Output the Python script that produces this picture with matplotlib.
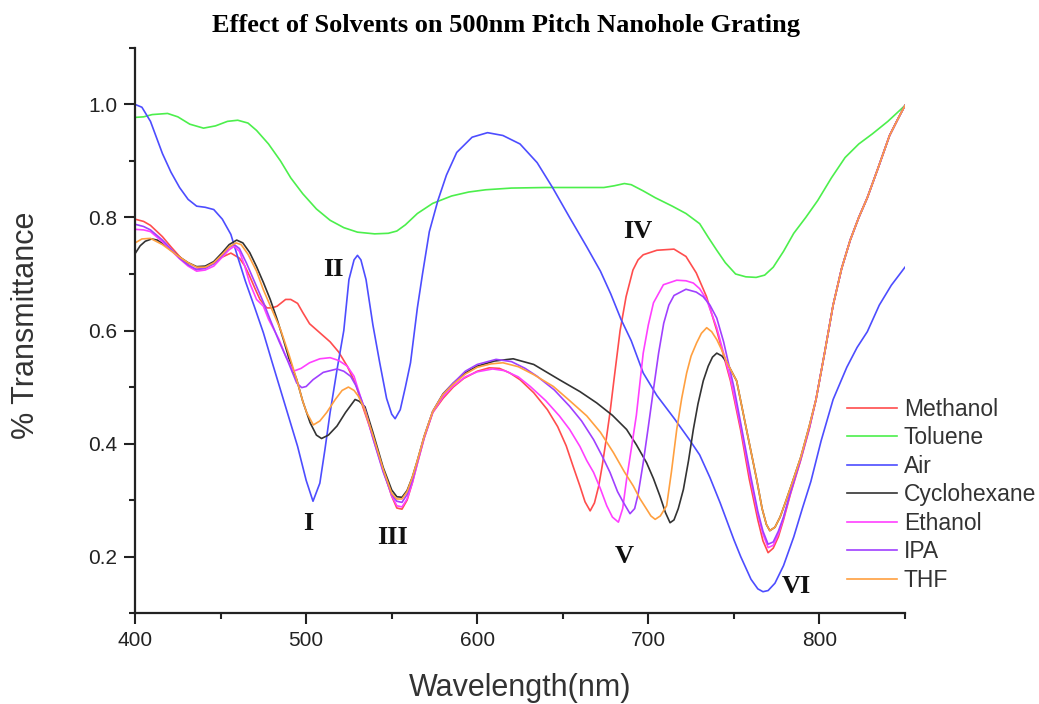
import matplotlib
matplotlib.use('Agg')
import matplotlib.pyplot as plt
from matplotlib.ticker import MultipleLocator

# 数据
air_nm = [400, 404, 409, 416, 421, 426, 431, 436, 441, 446, 451, 456, 460, 464.5, 470, 475, 480, 485, 490, 495, 500, 504, 508, 511, 514, 518, 522, 525, 528, 530, 532, 535, 539, 543, 547, 550, 552, 555, 558, 561, 565, 568, 572, 577, 582, 588, 597, 606, 615, 625, 635, 644, 654, 664, 672, 678, 684, 690, 697, 705, 715, 724, 730, 736, 742, 750, 754, 760, 764, 767, 770, 774, 779, 785, 790, 795, 801, 808, 816, 822, 828, 835, 842, 850]
air_val = [1.0, 0.995, 0.97, 0.913, 0.88, 0.853, 0.832, 0.82, 0.818, 0.814, 0.797, 0.77, 0.73, 0.687, 0.64, 0.596, 0.545, 0.495, 0.445, 0.395, 0.335, 0.298, 0.33, 0.39, 0.455, 0.53, 0.60, 0.69, 0.725, 0.733, 0.725, 0.69, 0.61, 0.543, 0.48, 0.452, 0.444, 0.46, 0.50, 0.543, 0.64, 0.70, 0.775, 0.83, 0.875, 0.915, 0.942, 0.95, 0.945, 0.93, 0.897, 0.853, 0.80, 0.748, 0.705, 0.665, 0.62, 0.582, 0.525, 0.485, 0.445, 0.407, 0.38, 0.34, 0.295, 0.23, 0.2, 0.16, 0.143, 0.138, 0.14, 0.153, 0.184, 0.235, 0.285, 0.333, 0.405, 0.478, 0.535, 0.57, 0.598, 0.645, 0.68, 0.712]

toluene_nm = [400, 405, 410, 419, 425, 432, 440, 447, 454, 460, 466, 471, 478, 485, 491, 498, 506, 514, 522, 530, 540, 548, 553, 558, 565, 574, 585, 595, 605, 620, 640, 660, 674, 680, 686, 690, 697, 704, 714, 722, 730, 735, 740, 745, 751, 757, 763, 768, 773, 779, 785, 792, 799, 807, 815, 823, 831, 840, 850]
toluene_val = [0.977, 0.978, 0.982, 0.984, 0.978, 0.965, 0.958, 0.962, 0.97, 0.972, 0.967, 0.954, 0.93, 0.90, 0.87, 0.842, 0.815, 0.795, 0.782, 0.774, 0.771, 0.772, 0.776, 0.787, 0.807, 0.825, 0.838, 0.845, 0.849, 0.852, 0.853, 0.853, 0.853, 0.856, 0.86, 0.858, 0.847, 0.835, 0.82, 0.807, 0.789, 0.765, 0.742, 0.72, 0.70, 0.695, 0.694, 0.698, 0.712, 0.74, 0.772, 0.80, 0.83, 0.87, 0.906, 0.93, 0.948, 0.97, 0.998]

methanol_nm = [400, 405, 409, 416, 421, 426, 431, 435, 440, 446, 451, 456, 461, 464, 467, 470, 473, 477, 480, 483, 488, 491, 495, 498, 502, 508, 514, 519, 524, 529, 533, 539, 545, 550, 553, 556, 559, 562, 565, 569, 574, 580, 586, 592, 600, 607, 613, 619, 625, 633, 641, 647, 652, 656, 660, 663, 666, 668.5, 671, 673, 675.5, 677.6, 680, 683.5, 687, 691, 694, 697, 705, 715, 722, 728, 734, 740, 748, 754, 759, 764, 767, 770, 773, 776, 779, 783, 789, 794, 798, 803, 808, 813, 818, 823, 828, 834, 841, 846, 850]
methanol_val = [0.797, 0.793, 0.786, 0.766, 0.748, 0.731, 0.716, 0.708, 0.71, 0.72, 0.73, 0.737, 0.728, 0.715, 0.696, 0.675, 0.655, 0.64, 0.64, 0.643, 0.655, 0.655, 0.648, 0.632, 0.612, 0.596, 0.58, 0.562, 0.537, 0.505, 0.466, 0.413, 0.354, 0.307, 0.286, 0.284, 0.30, 0.33, 0.365, 0.41, 0.455, 0.48, 0.50, 0.515, 0.528, 0.534, 0.533, 0.525, 0.513, 0.49, 0.46, 0.43, 0.396, 0.36, 0.325, 0.297, 0.281, 0.295, 0.325, 0.36, 0.41, 0.455, 0.515, 0.60, 0.66, 0.707, 0.725, 0.734, 0.742, 0.744, 0.731, 0.702, 0.66, 0.60, 0.511, 0.423, 0.337, 0.265, 0.228, 0.207, 0.215, 0.235, 0.265, 0.31, 0.37, 0.425, 0.478, 0.56, 0.645, 0.71, 0.76, 0.80, 0.835, 0.885, 0.945, 0.975, 0.998]

cyclohexane_nm = [400, 403, 406, 409.7, 413, 417, 421, 426, 431, 436, 441, 446, 451, 455, 459.4, 463, 467, 471, 475, 479, 483, 486.7, 490, 494.5, 498, 502.3, 506, 509, 513, 518, 523, 528.6, 531, 534.4, 539, 545, 550, 553, 556, 559, 562, 565, 569, 574, 580, 586, 593, 600, 610, 621, 633, 648, 660, 669.8, 679, 687.3, 693, 699, 703, 706.8, 710, 712.7, 715, 717.5, 720.5, 723.5, 726.3, 729, 732.1, 735, 737.5, 740, 743, 746, 751.6, 757.5, 763.3, 766.5, 769, 771, 774, 777, 780, 784, 789, 794, 798, 803, 808, 813, 818, 823, 828, 834, 841, 846, 850]
cyclohexane_val = [0.736, 0.75, 0.758, 0.762, 0.76, 0.752, 0.742, 0.73, 0.72, 0.713, 0.714, 0.722, 0.738, 0.752, 0.76, 0.755, 0.738, 0.713, 0.685, 0.655, 0.62, 0.584, 0.55, 0.513, 0.475, 0.437, 0.415, 0.409, 0.415, 0.431, 0.455, 0.478, 0.475, 0.465, 0.42, 0.358, 0.318, 0.306, 0.305, 0.317, 0.34, 0.37, 0.413, 0.457, 0.488, 0.507, 0.525, 0.537, 0.546, 0.55, 0.54, 0.513, 0.492, 0.472, 0.45, 0.425, 0.398, 0.366, 0.338, 0.307, 0.278, 0.26, 0.265, 0.285, 0.319, 0.37, 0.425, 0.47, 0.511, 0.537, 0.553, 0.56, 0.555, 0.543, 0.511, 0.423, 0.337, 0.285, 0.257, 0.246, 0.252, 0.27, 0.295, 0.33, 0.375, 0.43, 0.478, 0.56, 0.645, 0.71, 0.76, 0.80, 0.835, 0.885, 0.945, 0.975, 0.998]

ethanol_nm = [400, 405, 409, 416, 421, 426, 431, 436, 441, 446, 451, 455, 458, 461, 464, 467, 471, 475, 478, 484, 488, 492.5, 497, 502, 508, 514, 519, 524, 528, 531, 534, 539, 545, 550, 553, 556, 559, 562, 565, 569, 574, 580, 586, 593, 600, 609, 616, 624, 631, 640, 648, 654, 660, 664, 668, 672, 675.7, 679, 682.5, 685, 687.3, 690, 693, 697, 700, 703, 708.8, 716.6, 722, 726.3, 730, 734, 740, 748, 754, 759, 764, 767, 770, 773, 776, 779, 783, 789, 794, 798, 803, 808, 813, 818, 823, 828, 834, 841, 846, 850]
ethanol_val = [0.779, 0.778, 0.775, 0.757, 0.742, 0.727, 0.714, 0.705, 0.707, 0.714, 0.73, 0.743, 0.749, 0.74, 0.715, 0.684, 0.655, 0.643, 0.62, 0.585, 0.555, 0.528, 0.533, 0.543, 0.55, 0.552, 0.547, 0.537, 0.519, 0.49, 0.462, 0.41, 0.352, 0.308, 0.29, 0.288, 0.302, 0.33, 0.365, 0.41, 0.455, 0.483, 0.502, 0.518, 0.527, 0.532, 0.529, 0.518, 0.501, 0.476, 0.449, 0.425, 0.395, 0.37, 0.349, 0.32, 0.29, 0.27, 0.261, 0.285, 0.337, 0.39, 0.45, 0.56, 0.61, 0.649, 0.681, 0.689, 0.688, 0.684, 0.674, 0.655, 0.605, 0.515, 0.43, 0.348, 0.275, 0.24, 0.216, 0.22, 0.24, 0.268, 0.312, 0.372, 0.427, 0.478, 0.56, 0.645, 0.71, 0.76, 0.80, 0.835, 0.885, 0.945, 0.975, 0.998]

ipa_nm = [400, 405, 409, 416, 421, 426, 431, 436, 441, 446, 451, 455, 458, 461, 465, 470, 475, 479, 484, 489, 494.5, 497.4, 500, 504, 510, 518, 522, 526, 529, 532, 535, 539, 545, 550, 553, 556, 559, 562, 565, 569, 574, 580, 586, 593, 600, 611, 620, 628, 635, 645, 654, 661, 668, 673, 677.6, 682, 685.4, 689.3, 692, 694, 697, 700, 703, 706, 709, 712, 715, 722, 728, 732, 736, 740, 744, 750, 755, 760, 764, 767, 770, 773, 776, 779, 783, 789, 794, 798, 803, 808, 813, 818, 823, 828, 834, 841, 846, 850]
ipa_val = [0.788, 0.784, 0.778, 0.76, 0.744, 0.728, 0.716, 0.708, 0.71, 0.718, 0.733, 0.747, 0.752, 0.745, 0.72, 0.685, 0.65, 0.619, 0.582, 0.548, 0.507, 0.499, 0.501, 0.513, 0.526, 0.532, 0.528, 0.519, 0.503, 0.48, 0.455, 0.41, 0.35, 0.31, 0.298, 0.296, 0.31, 0.335, 0.368, 0.412, 0.457, 0.487, 0.507, 0.528, 0.54, 0.549, 0.545, 0.533, 0.519, 0.495, 0.466, 0.44, 0.407, 0.378, 0.349, 0.315, 0.296, 0.276, 0.285, 0.31, 0.366, 0.43, 0.496, 0.56, 0.613, 0.645, 0.662, 0.673, 0.668, 0.66, 0.645, 0.622, 0.58, 0.50, 0.42, 0.34, 0.28, 0.245, 0.222, 0.226, 0.245, 0.27, 0.313, 0.372, 0.427, 0.478, 0.56, 0.645, 0.71, 0.76, 0.80, 0.835, 0.885, 0.945, 0.975, 0.998]

thf_nm = [400, 404, 409, 416, 421, 426, 431, 436, 441, 446, 451, 455, 459, 462, 466, 471, 475, 480, 485, 490, 494.5, 498, 500.3, 504.2, 508, 512, 517, 521, 524.7, 528, 530.5, 534, 539, 545, 550, 553, 556, 559, 562, 565, 569, 574, 580, 586, 593, 600, 608, 615, 624, 633, 644.5, 654, 664, 672, 679.6, 686, 691.2, 695, 699, 701.5, 704, 707, 710.7, 713.5, 716.6, 719.5, 722.4, 725, 728.2, 731, 734.1, 737, 740, 743, 746, 751.6, 757.5, 763.3, 766.5, 769, 771, 774, 777, 780, 784, 789, 794, 798, 803, 808, 813, 818, 823, 828, 834, 841, 846, 850]
thf_val = [0.755, 0.762, 0.763, 0.752, 0.741, 0.73, 0.72, 0.712, 0.712, 0.72, 0.735, 0.748, 0.755, 0.752, 0.735, 0.705, 0.672, 0.637, 0.602, 0.557, 0.513, 0.475, 0.455, 0.433, 0.44, 0.455, 0.478, 0.494, 0.50, 0.494, 0.484, 0.462, 0.415, 0.355, 0.312, 0.302, 0.302, 0.315, 0.34, 0.37, 0.413, 0.457, 0.487, 0.505, 0.523, 0.535, 0.541, 0.543, 0.536, 0.522, 0.501, 0.476, 0.449, 0.42, 0.384, 0.35, 0.325, 0.303, 0.284, 0.272, 0.266, 0.272, 0.29, 0.35, 0.425, 0.48, 0.525, 0.555, 0.578, 0.595, 0.605, 0.598, 0.584, 0.565, 0.543, 0.511, 0.423, 0.337, 0.285, 0.257, 0.246, 0.252, 0.27, 0.295, 0.33, 0.375, 0.43, 0.478, 0.56, 0.645, 0.71, 0.76, 0.80, 0.835, 0.885, 0.945, 0.975, 0.998]

series = [
    ('Methanol', methanol_nm, methanol_val, '#ff4d4d'),
    ('Toluene', toluene_nm, toluene_val, '#4cef4c'),
    ('Air', air_nm, air_val, '#4d4dff'),
    ('Cyclohexane', cyclohexane_nm, cyclohexane_val, '#333333'),
    ('Ethanol', ethanol_nm, ethanol_val, '#ff40ff'),
    ('IPA', ipa_nm, ipa_val, '#a040ff'),
    ('THF', thf_nm, thf_val, '#ffa040'),
]

# 峰的罗马数字标注
peak_labels = ['I', 'II', 'III', 'IV', 'V', 'VI']
peak_x = [501, 515.7, 550.2, 694, 685.8, 786.6]
peak_y = [0.259, 0.708, 0.233, 0.775, 0.201, 0.148]

fig = plt.figure(figsize=(10.39, 7.04), dpi=100)
ax = fig.add_axes([0.130, 0.129, 0.741, 0.803])

for name, xs, ys, c in series:
    ax.plot(xs, ys, color=c, lw=1.2, label=name, solid_joinstyle='round')

for t, px, py in zip(peak_labels, peak_x, peak_y):
    ax.text(px, py, t, ha='center', va='center', fontsize=19, fontweight='bold',
            family='Liberation Serif', color='#111111')

ax.set_xlim(400, 850)
ax.set_ylim(0.1, 1.1)
ax.xaxis.set_major_locator(MultipleLocator(100))
ax.xaxis.set_minor_locator(MultipleLocator(50))
ax.yaxis.set_major_locator(MultipleLocator(0.2))
ax.yaxis.set_minor_locator(MultipleLocator(0.1))
ax.set_yticks([0.2, 0.4, 0.6, 0.8, 1.0])
ax.set_yticklabels(['0.2', '0.4', '0.6', '0.8', '1.0'])
ax.set_xticks([400, 500, 600, 700, 800])

for s in ['top', 'right']:
    ax.spines[s].set_visible(False)
for s in ['left', 'bottom']:
    ax.spines[s].set_linewidth(1.6)
    ax.spines[s].set_color('#222222')

ax.tick_params(which='major', direction='out', length=8, width=1.5, color='#222222',
               labelsize=15, labelcolor='#222222', pad=5)
ax.tick_params(which='minor', direction='out', length=4, width=1.5, color='#222222')
for lab in ax.get_xticklabels() + ax.get_yticklabels():
    lab.set_family('Liberation Sans')

fig.text(0.487, 0.964, 'Effect of Solvents on 500nm Pitch Nanohole Grating',
         ha='center', va='center', fontsize=19, fontweight='bold', family='Liberation Serif')
fig.text(0.5005, 0.012, 'Wavelength(nm)', ha='center', va='baseline', fontsize=22,
         family='Liberation Sans', color='#333333')
fig.text(0.025, 0.538, '% Transmittance', ha='center', va='center', rotation=90,
         fontsize=22, family='Liberation Sans', color='#333333')

leg = fig.legend(loc='upper left', bbox_to_anchor=(846.6 / 1039, 1 - 398 / 704),
                 bbox_transform=fig.transFigure, frameon=False, borderpad=0,
                 borderaxespad=0, handlelength=2.2, handletextpad=0.3,
                 labelspacing=0.24, prop={'family': 'Liberation Sans', 'size': 16.5})
for t in leg.get_texts():
    t.set_color('#333333')

fig.savefig('out.png', dpi=100)
